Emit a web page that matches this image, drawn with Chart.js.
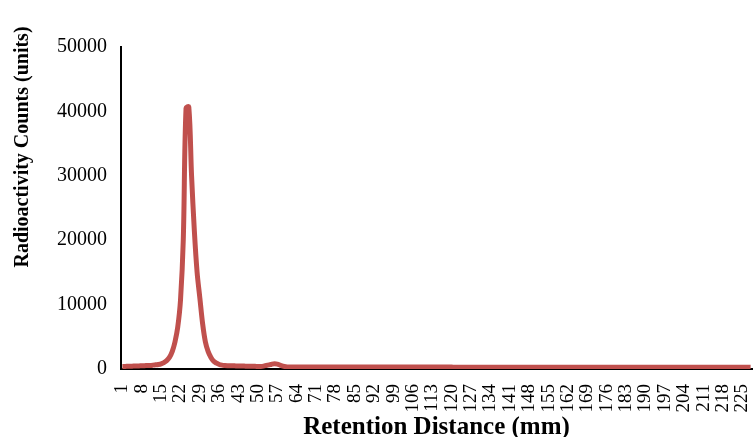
<!DOCTYPE html>
<html>
<head>
  <meta charset="utf-8" />
  <title>Radioactivity Counts</title>
  <script src="https://cdn.jsdelivr.net/npm/chart.js"></script>
  <style>
    body { margin: 0; background: #fff; }
    #wrap { width: 755px; height: 437px; }
  </style>
</head>
<body>
<div id="wrap"><canvas id="chart"></canvas></div>
<script>
// retention distance (mm), one category per mm: 1..228
const distances = [];
for (let d = 1; d <= 228; d++) distances.push(String(d));

// radioactivity counts
const countsStart = [400, 400, 420, 430, 450, 460, 480, 500, 520, 540, 560, 600, 650, 700,
  800, 1000, 1300, 1800, 2700, 4200, 6500, 10700, 20000, 40500, 40700, 30000, 21500,
  15000, 11000, 7000, 4200, 2700, 1800, 1200, 900, 700, 600];
const countsMid = [550, 520, 500, 500, 480, 470, 460, 450, 440, 430, 420, 410, 400, 400,
  450, 550, 650, 750, 800, 750, 600, 450, 350];
const countsTail = [];
for (let i = 0; i < 168; i++) countsTail.push(i < 60 ? 300 : 280);
const counts = countsStart.concat(countsMid, countsTail);

const yTitle = 'Radioactivity Counts (units)';
const xTitle = 'Retention Distance (mm)';
const serif = 'Liberation Serif, Times New Roman, serif';

// the y title sits above the middle of the plot, so it is drawn by hand
const yTitlePlugin = {
  id: 'yTitle',
  afterDraw(chart) {
    const ctx = chart.ctx;
    ctx.save();
    ctx.translate(23, 147);
    ctx.rotate(-Math.PI / 2);
    ctx.font = 'bold 20px ' + serif;
    ctx.fillStyle = '#000';
    ctx.textAlign = 'center';
    ctx.textBaseline = 'middle';
    ctx.fillText(yTitle, 0, 0);
    ctx.restore();
  }
};

new Chart(document.getElementById('chart'), {
  type: 'line',
  data: {
    labels: distances,
    datasets: [{
      data: counts,
      borderColor: '#C0504D',
      borderWidth: 5,
      pointRadius: 0,
      tension: 0.35,
      fill: false
    }]
  },
  plugins: [yTitlePlugin],
  options: {
    responsive: true,
    maintainAspectRatio: false,
    animation: false,
    layout: { padding: { top: 47, right: 3, left: 0, bottom: 0 } },
    plugins: { legend: { display: false }, tooltip: { enabled: false } },
    scales: {
      x: {
        offset: true,
        grid: { display: false, drawTicks: false },
        border: { display: true, color: '#000', width: 2 },
        ticks: {
          autoSkip: false,
          minRotation: 90,
          maxRotation: 90,
          padding: 15,
          color: '#000',
          font: { family: serif, size: 19 },
          callback: function (v, i) { return i % 7 === 0 ? this.getLabelForValue(v) : ''; }
        },
        title: {
          display: true,
          text: xTitle,
          color: '#000',
          font: { family: serif, size: 25, weight: 'bold' },
          padding: { top: 0, bottom: -6 }
        },
        afterFit: s => { s.height = 68; s.paddingLeft = 0; s.paddingRight = 0; }
      },
      y: {
        min: 0,
        max: 50000,
        grid: { display: false, drawTicks: false },
        border: { display: true, color: '#000', width: 2 },
        ticks: {
          stepSize: 10000,
          padding: 14,
          color: '#000',
          font: { family: serif, size: 20 },
          callback: v => String(v)
        },
        afterFit: s => { s.width = 121; }
      }
    }
  }
});
</script>
</body>
</html>
